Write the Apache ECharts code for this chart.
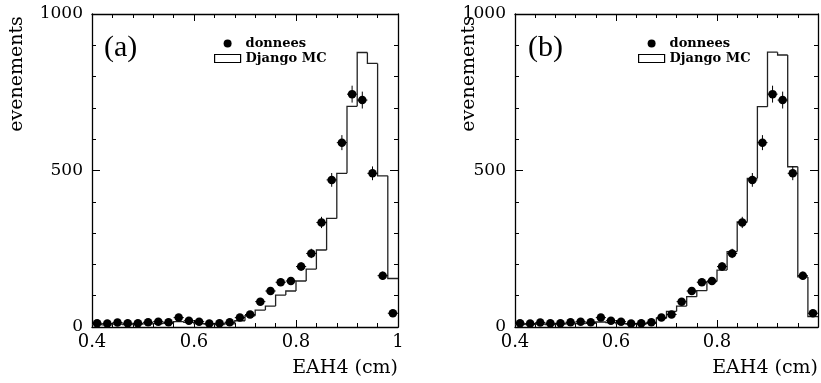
<!DOCTYPE html>
<html><head><meta charset="utf-8">
<script src="https://cdn.jsdelivr.net/npm/echarts@6/dist/echarts.min.js"></script>
<style>html,body{margin:0;padding:0;background:#fff}#c{width:821px;height:383px}</style>
</head><body><div id="c"></div>
<script>
// ---- data ----
const binLeft   = [0.40,0.42,0.44,0.46,0.48,0.50,0.52,0.54,0.56,0.58,0.60,0.62,0.64,0.66,0.68,0.70,0.72,0.74,0.76,0.78,0.80,0.82,0.84,0.86,0.88,0.90,0.92,0.94,0.96,0.98];
const binRight  = [0.42,0.44,0.46,0.48,0.50,0.52,0.54,0.56,0.58,0.60,0.62,0.64,0.66,0.68,0.70,0.72,0.74,0.76,0.78,0.80,0.82,0.84,0.86,0.88,0.90,0.92,0.94,0.96,0.98,1.00];
const binCenter = [0.41,0.43,0.45,0.47,0.49,0.51,0.53,0.55,0.57,0.59,0.61,0.63,0.65,0.67,0.69,0.71,0.73,0.75,0.77,0.79,0.81,0.83,0.85,0.87,0.89,0.91,0.93,0.95,0.97,0.99];
const donnees    = [12,11,14,12,12,15,17,15,30,20,17,11,12,15,30,40,81,115,143,147,193,235,334,470,589,744,725,491,164,44];
const donneesErr = [3,3,4,3,3,4,4,4,5,4,4,3,3,4,5,6,9,11,12,12,14,15,18,22,24,27,27,22,13,7];
const mcA = [8,7,9,8,9,10,11,12,17,15,11,9,8,10,20,36,54,67,102,115,147,185,246,347,491,705,877,842,483,155];
const mcB = [8,8,9,8,9,10,11,12,16,14,11,9,9,12,28,50,67,97,116,145,182,241,336,475,704,878,869,512,160,33];
const panelLabels = ['(a)','(b)'];
const seriesNames = ['donnees','Django MC'];
const xName = 'EAH4 (cm)';
const yName = 'evenements';

// ---- layout ----
const grids = [
  {left:92, top:14, width:306, height:313},
  {left:515, top:14, width:305, height:313}
];
const SERIF = 'DejaVu Serif';

function xAxisDef(g, pos) {
  const main = pos === 'bottom';
  return {
    type:'value', gridIndex:g, position:pos, min:0.4, max:1.0, interval:0.2,
    axisLine:{show:true, onZero:false, lineStyle:{color:'#000', width:1.3}},
    axisTick:{show:true, inside:true, length:7, lineStyle:{color:'#000', width:1}},
    minorTick:{show:true, splitNumber:5, length:4, lineStyle:{color:'#000', width:1}},
    splitLine:{show:false}, minorSplitLine:{show:false},
    axisLabel:{show:main, margin:6, color:'#000', fontFamily:SERIF, fontSize:18,
      showMaxLabel: g === 0,
      formatter:v => (Math.abs(v-1) < 1e-9 ? '1' : v.toFixed(1))},
    name: main ? xName : '',
    nameLocation:'end', nameGap:0,
    nameTextStyle:{color:'#000', fontFamily:SERIF, fontSize:19, align:'right', verticalAlign:'top', padding:[32,0,0,0]}
  };
}
function yAxisDef(g, pos) {
  const main = pos === 'left';
  return {
    type:'value', gridIndex:g, position:pos, min:0, max:1000, interval:500,
    axisLine:{show:true, onZero:false, lineStyle:{color:'#000', width:1.3}},
    axisTick:{show:true, inside:true, length:8, lineStyle:{color:'#000', width:1}},
    minorTick:{show:true, splitNumber:5, length:4, lineStyle:{color:'#000', width:1}},
    splitLine:{show:false}, minorSplitLine:{show:false},
    axisLabel:{show:main, margin:9, color:'#000', fontFamily:SERIF, fontSize:17,
      formatter:v => String(v)}
  };
}

function histData(mc) {
  return mc.map((v,i) => [binLeft[i], binRight[i], v, i === 0 ? v : mc[i-1]]);
}
function renderHist(params, api) {
  const x0 = api.value(0), x1 = api.value(1), v = api.value(2), p = api.value(3);
  const a = api.coord([x0, p]), b = api.coord([x0, v]), c = api.coord([x1, v]);
  return {type:'polyline', shape:{points:[a,b,c]},
    style:{stroke:'#222', lineWidth:1.3, fill:null}};
}
function renderErr(params, api) {
  const x = api.value(0), v = api.value(1), e = api.value(2), xl = api.value(3), xr = api.value(4);
  const t = api.coord([x, v+e]), b = api.coord([x, v-e]);
  const l = api.coord([xl, v]), r = api.coord([xr, v]);
  return {type:'group', children:[
    {type:'line', shape:{x1:t[0], y1:t[1], x2:b[0], y2:b[1]}, style:{stroke:'#000', lineWidth:1}},
    {type:'line', shape:{x1:l[0], y1:l[1], x2:r[0], y2:r[1]}, style:{stroke:'#000', lineWidth:1}}
  ]};
}

const series = [];
[mcA, mcB].forEach((mc, g) => {
  series.push({
    name:seriesNames[1], type:'custom', xAxisIndex:g*2, yAxisIndex:g*2,
    renderItem:renderHist, data:histData(mc), clip:true,
    encode:{x:[0,1], y:[2,3]}, itemStyle:{color:'#fff', borderColor:'#000'}, silent:true
  });
  series.push({
    name:'err'+g, type:'custom', xAxisIndex:g*2, yAxisIndex:g*2,
    renderItem:renderErr, clip:true,
    data:donnees.map((v,i) => [binCenter[i], v, donneesErr[i], binLeft[i], binRight[i]]),
    encode:{x:[0,3,4], y:[1]}, silent:true
  });
  series.push({
    name:seriesNames[0], type:'scatter', xAxisIndex:g*2, yAxisIndex:g*2,
    symbol:'circle', symbolSize:8.5, itemStyle:{color:'#000', opacity:1},
    data:donnees.map((v,i) => [binCenter[i], v]), silent:true, z:5
  });
});

function legendDef(left) {
  return {
    left:left, top:37, orient:'vertical', itemWidth:26, itemHeight:8, itemGap:2,
    selectedMode:false, padding:0,
    textStyle:{fontFamily:SERIF, fontWeight:'bold', fontSize:13, color:'#000'},
    data:[
      {name:seriesNames[0], icon:'circle', itemStyle:{color:'#000', borderWidth:0, opacity:1}},
      {name:seriesNames[1], icon:'rect', itemStyle:{color:'#fff', borderColor:'#000', borderWidth:1.2}}
    ]
  };
}

const option = {
  animation:false,
  backgroundColor:'#fff',
  grid:grids,
  xAxis:[xAxisDef(0,'bottom'), xAxisDef(0,'top'), xAxisDef(1,'bottom'), xAxisDef(1,'top')],
  yAxis:[yAxisDef(0,'left'), yAxisDef(0,'right'), yAxisDef(1,'left'), yAxisDef(1,'right')],
  legend:[legendDef(214), legendDef(638)],
  graphic:[
    {type:'text', left:104, top:33, style:{text:panelLabels[0], font:'30px "Liberation Serif"', fill:'#000'}},
    {type:'text', left:528, top:33, style:{text:panelLabels[1], font:'30px "Liberation Serif"', fill:'#000'}},
    {type:'text', x:17, y:74, rotation:Math.PI/2,
      style:{text:yName, fontFamily:SERIF, fontSize:19, fill:'#000', align:'center', verticalAlign:'middle'}},
    {type:'text', x:469, y:74, rotation:Math.PI/2,
      style:{text:yName, fontFamily:SERIF, fontSize:19, fill:'#000', align:'center', verticalAlign:'middle'}}
  ],
  series:series
};
const chart = echarts.init(document.getElementById('c'), null, {renderer:'canvas'});
chart.setOption(option);
</script>
</body></html>
